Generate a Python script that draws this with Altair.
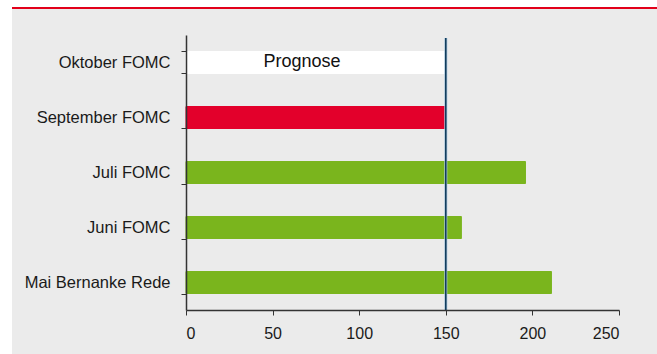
import altair as alt
import pandas as pd

categories = ["Oktober FOMC", "September FOMC", "Juli FOMC", "Juni FOMC", "Mai Bernanke Rede"]
values = [150, 150, 196, 159, 211]
bar_colors = ["#FFFFFF", "#E3002B", "#7AB51D", "#7AB51D", "#7AB51D"]
x_ticks = [0, 50, 100, 150, 200, 250]
ref_value = [150]
note_label = ["Prognose"]
note_x = [67]
note_cat = ["Oktober FOMC"]

df = pd.DataFrame({"cat": categories, "val": values, "col": bar_colors})
ref_df = pd.DataFrame({"v": ref_value})
note_df = pd.DataFrame({"t": note_label, "x": note_x, "cat": note_cat})

W, H = 433, 275
LEFT, TOP = 186, 35

yscale = alt.Scale(domain=categories, paddingInner=0.6, paddingOuter=0.3)
xscale = alt.Scale(domain=[0, 250], nice=False, zero=True)

bg = alt.Chart(ref_df).mark_rect(color="#EBEBEB").encode(
    x=alt.value(12 - LEFT), x2=alt.value(657 - LEFT),
    y=alt.value(9 - TOP), y2=alt.value(354 - TOP),
)
redline = alt.Chart(ref_df).mark_rect(color="#E2001A").encode(
    x=alt.value(12 - LEFT), x2=alt.value(657 - LEFT),
    y=alt.value(7 - TOP), y2=alt.value(9 - TOP),
)

bars = alt.Chart(df).mark_bar(strokeWidth=1).encode(
    x=alt.X("val:Q", scale=xscale,
            axis=alt.Axis(values=x_ticks, title=None, grid=False, zindex=1,
                          domainColor="#333333", tickColor="#333333", tickSize=5,
                          labelPadding=10, labelFontSize=16, labelColor="#1A1A1A",
                          labelFont="Liberation Sans", domainWidth=1.5)),
    y=alt.Y("cat:N", scale=yscale, sort=categories,
            axis=alt.Axis(title=None, grid=False, zindex=1, tickBand="extent",
                          domainColor="#333333", tickColor="#333333", tickSize=5,
                          labelPadding=11, labelFontSize=16.5, labelColor="#1A1A1A",
                          labelFont="Liberation Sans", domainWidth=1.5)),
    fill=alt.Color("col:N", scale=None),
    stroke=alt.Color("col:N", scale=None),
)

halo = alt.Chart(ref_df).mark_rule(color="#A9C6DC", strokeWidth=3).encode(
    x=alt.X("v:Q", scale=xscale), y=alt.value(3), y2=alt.value(H)
)
rule = alt.Chart(ref_df).mark_rule(color="#0B3656", strokeWidth=1.5).encode(
    x=alt.X("v:Q", scale=xscale), y=alt.value(3), y2=alt.value(H)
)

note = alt.Chart(note_df).mark_text(
    fontSize=18, font="Liberation Sans", color="#111111", align="center", baseline="middle", dy=-1
).encode(
    x=alt.X("x:Q", scale=xscale),
    y=alt.Y("cat:N", scale=yscale, sort=categories),
    text="t:N",
)

chart = alt.layer(bg, redline, bars, halo, rule, note).properties(
    width=W, height=H,
    autosize=alt.AutoSizeParams(type="none"),
    padding={"left": LEFT, "top": TOP, "right": 657 - LEFT - W, "bottom": 354 - TOP - H},
    background="#FFFFFF",
).configure_view(strokeWidth=0, fill=None)

chart.save("out.html", embed_options={"renderer": "svg", "actions": False})
